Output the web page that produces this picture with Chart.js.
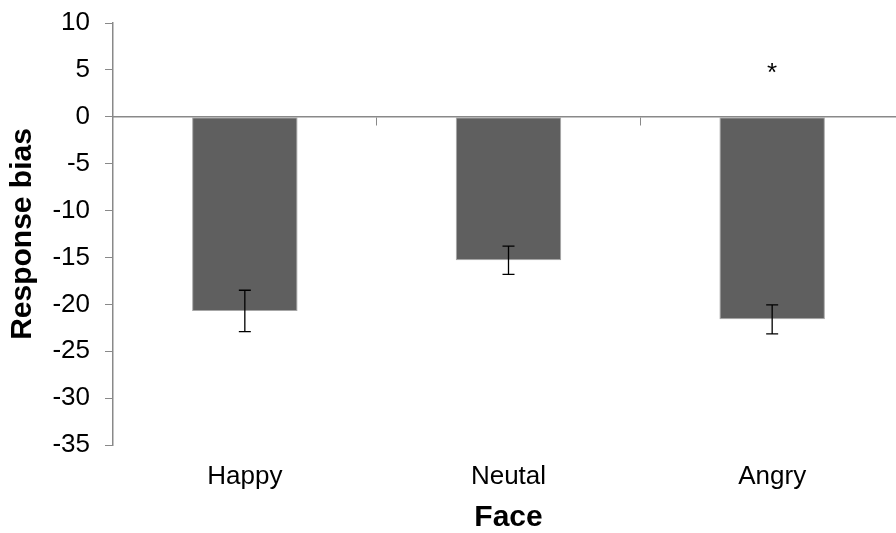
<!DOCTYPE html>
<html>
<head>
<meta charset="utf-8">
<script src="https://cdn.jsdelivr.net/npm/chart.js@4/dist/chart.umd.min.js"></script>
<style>
  html, body { margin:0; padding:0; background:#fff; overflow:hidden; }
  #wrap { width:904px; height:533px; }
</style>
</head>
<body>
<div id="wrap"><canvas id="grafico"></canvas></div>
<script>
// ── datos ──
const caras    = ["Happy", "Neutal", "Angry"];
const sesgo    = [-20.7, -15.3, -21.6];
const errores  = [2.2, 1.5, 1.55];
const yTicks   = [10, 5, 0, -5, -10, -15, -20, -25, -30, -35];
const signif   = [null, null, 5];   // posición del asterisco

const C = { barra:'#5f5f5f', borde:'#a6a6a6', eje:'#898989', texto:'#000' };
const FUENTE = "'Liberation Sans', Arial, sans-serif";

/* barras de error + asterisco */
const errorBars = {
  id:'errorBars',
  afterDatasetsDraw(chart) {
    const { ctx, scales:{ y } } = chart;
    const meta = chart.getDatasetMeta(0);
    ctx.save();
    ctx.strokeStyle = '#000'; ctx.lineWidth = 1.3;
    meta.data.forEach((bar, i) => {
      const x = bar.x;
      const yHi = y.getPixelForValue(sesgo[i] + errores[i]);
      const yLo = y.getPixelForValue(sesgo[i] - errores[i]);
      ctx.beginPath();
      ctx.moveTo(x, yHi); ctx.lineTo(x, yLo);
      ctx.moveTo(x-6, yHi); ctx.lineTo(x+6, yHi);
      ctx.moveTo(x-6, yLo); ctx.lineTo(x+6, yLo);
      ctx.stroke();
    });
    ctx.fillStyle = '#000';
    ctx.font = "26px " + FUENTE;
    ctx.textAlign = 'center'; ctx.textBaseline = 'alphabetic';
    signif.forEach((v, i) => {
      if (v == null) return;
      ctx.fillText('*', meta.data[i].x, y.getPixelForValue(v) + 0.43*26);
    });
    ctx.restore();
  }
};

new Chart(document.getElementById('grafico'), {
  type:'bar',
  data:{ labels:caras, datasets:[{ data:sesgo, backgroundColor:C.barra, borderColor:C.borde,
    borderWidth:1, borderSkipped:false, barPercentage:0.4, categoryPercentage:1 }] },
  options:{
    responsive:true, maintainAspectRatio:false, animation:false,
    layout:{ padding:{ top:23, left:0, right:0, bottom:0 } },
    plugins:{ legend:{display:false}, tooltip:{enabled:false} },
    scales:{
      y:{
        min:-35, max:10,
        afterBuildTicks: s => { s.ticks = yTicks.map(v => ({ value:v })); },
        afterFit: s => { s.width = 113; s.paddingTop = 0; s.paddingBottom = 0; },
        grid:{ drawOnChartArea:false, drawTicks:true, tickLength:8, color:C.eje, lineWidth:1 },
        border:{ display:true, color:C.eje, width:1.5 },
        ticks:{ color:C.texto, padding:15, font:{ size:26, family:FUENTE } },
        title:{ display:true, text:'Response bias', color:C.texto, padding:{top:8,bottom:0},
          font:{ size:30, weight:'bold', family:FUENTE, lineHeight:1 } }
      },
      x:{
        position:{ y:0 },
        offset:true,
        grid:{ drawOnChartArea:false, drawTicks:true, tickLength:8, color:C.eje, offset:true },
        border:{ display:true, color:C.eje, width:1.5 },
        ticks:{ display:false }
      },
      x2:{
        type:'category', labels:caras, position:'bottom', offset:true,
        afterFit: s => { s.height = 88; },
        grid:{ display:false, drawTicks:false },
        border:{ display:false },
        ticks:{ color:C.texto, padding:16, font:{ size:26, family:FUENTE } },
        title:{ display:true, text:'Face', color:C.texto, padding:{top:0,bottom:0},
          font:{ size:30, weight:'bold', family:FUENTE, lineHeight:1 } }
      }
    }
  },
  plugins:[errorBars]
});
</script>
</body>
</html>
